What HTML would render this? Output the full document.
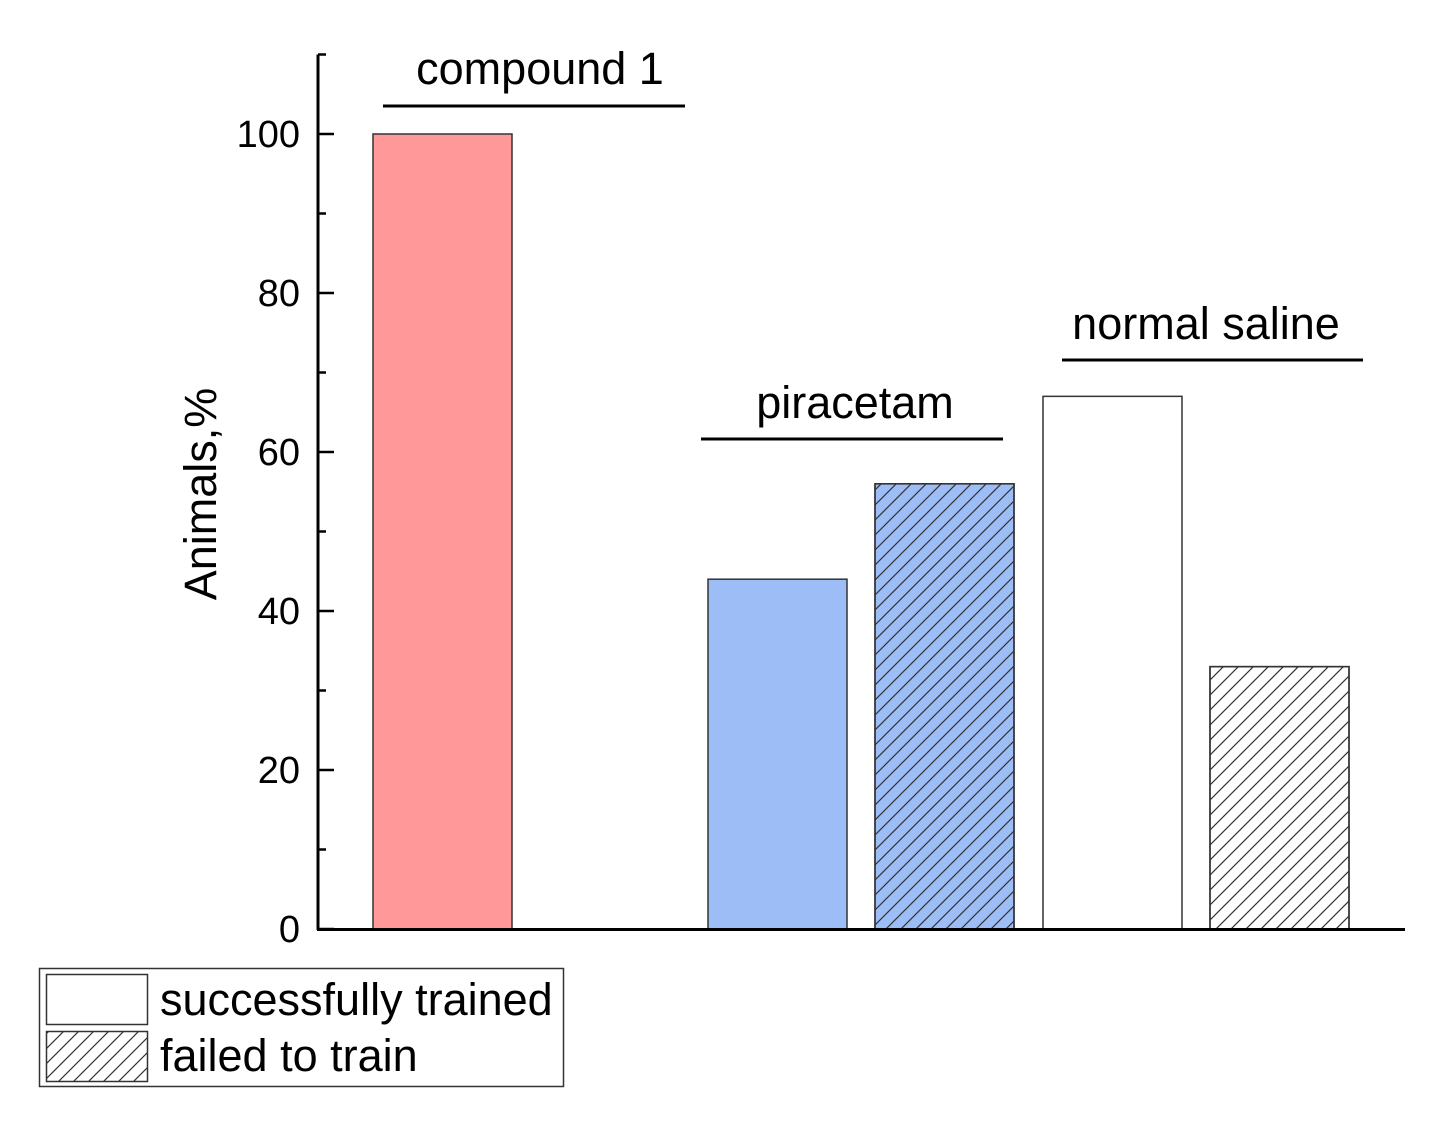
<!DOCTYPE html>
<html><head><meta charset="utf-8"><style>
body{margin:0;background:#fff}
svg{display:block;font-family:"Liberation Sans",Arial,sans-serif}
</style></head><body>
<svg id="chart" width="1451" height="1130">
<defs>
<pattern id="hatch" patternUnits="userSpaceOnUse" width="15" height="15">
<path d="M-2,17 L17,-2 M-4,4 L4,-4 M11,19 L19,11" stroke="#333" stroke-width="1.2"/>
</pattern>
</defs>
<g id="plot"></g>
</svg>
<script>
const categories = ["compound 1 trained", "piracetam trained", "piracetam failed", "normal saline trained", "normal saline failed"];
const values = [100, 44, 56, 67, 33];
const fills = ["#ff9999", "#9dbdf6", "#9dbdf6", "#ffffff", "#ffffff"];
const hatched = [false, false, true, false, true];
const barLefts = [373, 708, 875, 1043, 1210];
const yTicks = [0, 20, 40, 60, 80, 100];
const groupLabels = ["compound 1", "piracetam", "normal saline"];
const groupLabelX = [540, 855, 1206];
const groupLabelY = [84, 418, 339];
const groupLineX1 = [383, 701, 1062];
const groupLineX2 = [685, 1003, 1363];
const groupLineY = [106, 439, 360];

const NS = "http://www.w3.org/2000/svg";
const g = document.getElementById('plot');
const y = v => 929 - v * 7.95;
function mk(tag, attrs, parent) {
  const e = document.createElementNS(NS, tag);
  for (const k in attrs) e.setAttribute(k, attrs[k]);
  (parent || g).appendChild(e);
  return e;
}
const barW = 139;
values.forEach((v, i) => {
  let r = mk('rect', {x: barLefts[i], y: y(v), width: barW, height: 929 - y(v), fill: fills[i], stroke: '#333', 'stroke-width': 1.5});
  
  
  if (hatched[i]) {
    let h = mk('rect', {x: barLefts[i], y: y(v), width: barW, height: 929 - y(v), fill: 'url(#hatch)', stroke: '#333', 'stroke-width': 1.5});
    
    
  }
});
let ax = mk('line', {x1: 318, y1: y(110), x2: 318, y2: 930, stroke: '#000', 'stroke-width': 3});


let xa = mk('line', {x1: 317, y1: 929.5, x2: 1405, y2: 929.5, stroke: '#000', 'stroke-width': 3});


for (let v = 10; v <= 110; v += 20) {
  let t = mk('line', {x1: 318, y1: y(v), x2: 326, y2: y(v), stroke: '#000', 'stroke-width': 2.5});
  
  
}
yTicks.forEach(v => {
  let t = mk('line', {x1: 318, y1: y(v), x2: 334, y2: y(v), stroke: '#000', 'stroke-width': 2.5});
  
  
  let l = mk('text', {x: 300, y: y(v) + 13, 'text-anchor': 'end', 'font-size': 38});
  l.textContent = v;
  
  
});
let yt = mk('text', {x: 0, y: 0, 'text-anchor': 'middle', 'font-size': 45, transform: 'translate(216,494) rotate(-90)'});
yt.textContent = 'Animals,%';


groupLabels.forEach((s, i) => {
  let t = mk('text', {x: groupLabelX[i], y: groupLabelY[i], 'text-anchor': 'middle', 'font-size': 45});
  t.textContent = s;
  
  
  let l = mk('line', {x1: groupLineX1[i], y1: groupLineY[i], x2: groupLineX2[i], y2: groupLineY[i], stroke: '#000', 'stroke-width': 3});
  
  
});
const lg = mk('g', {});


mk('rect', {x: 39.5, y: 968.5, width: 524, height: 118, fill: '#fff', stroke: '#333', 'stroke-width': 1.5}, lg);
let s1 = mk('rect', {x: 46.5, y: 974.5, width: 101, height: 50, fill: '#fff', stroke: '#333', 'stroke-width': 1.5}, lg);


let s2 = mk('rect', {x: 46.5, y: 1031.5, width: 101, height: 50, fill: 'url(#hatch)', stroke: '#333', 'stroke-width': 1.5}, lg);


let t1 = mk('text', {x: 160, y: 1015, 'font-size': 45}, lg);
t1.textContent = 'successfully trained';


let t2 = mk('text', {x: 160, y: 1071, 'font-size': 45}, lg);
t2.textContent = 'failed to train';


</script>
</body></html>
